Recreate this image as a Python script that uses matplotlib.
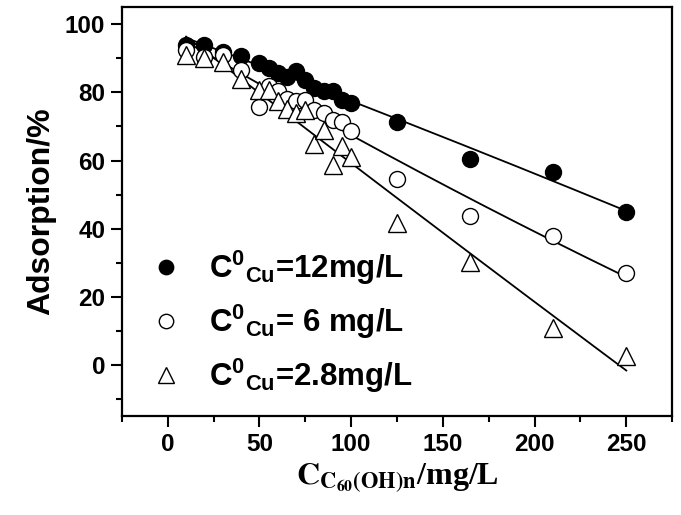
import matplotlib.pyplot as plt
import numpy as np
from matplotlib.ticker import MultipleLocator

plt.rcParams['mathtext.fontset'] = 'custom'
plt.rcParams['mathtext.rm'] = 'Liberation Sans:bold'
plt.rcParams['mathtext.bf'] = 'Liberation Sans:bold'
plt.rcParams['mathtext.it'] = 'Liberation Sans:bold'

# C60(OH)n concentration, mg/L
conc = np.array([10, 20, 30, 40, 50, 55, 60, 65, 70, 75, 80, 85, 90, 95, 100, 125, 165, 210, 250])

# adsorption %, one series per initial Cu concentration
ads_12 = np.array([94.0, 94.0, 92.0, 90.6, 88.5, 87.2, 85.6, 84.5, 86.3, 83.5, 81.3, 80.5, 80.5, 77.8, 76.8,
                   71.3, 60.6, 56.6, 44.8])
ads_6 = np.array([92.5, 90.5, 91.0, 86.5, 75.8, 82.0, 80.5, 78.2, 77.5, 77.7, 74.8, 73.9, 71.8, 71.2, 68.8,
                  54.6, 43.6, 38.0, 27.0])
ads_28 = np.array([91.0, 90.0, 89.0, 84.0, 80.6, 80.8, 77.6, 75.0, 73.9, 74.8, 65.0, 69.0, 58.6, 64.2, 61.0,
                   41.6, 30.2, 11.0, 2.5])

labels = [r'$\mathbf{C}^{\mathbf{0}}{}_{\mathbf{Cu}}$=12mg/L',
          r'$\mathbf{C}^{\mathbf{0}}{}_{\mathbf{Cu}}$= 6 mg/L',
          r'$\mathbf{C}^{\mathbf{0}}{}_{\mathbf{Cu}}$=2.8mg/L']

fig = plt.figure(figsize=(6.81, 5.15), dpi=100)
ax = fig.add_axes([0.179, 0.192, 0.808, 0.794])

xfit = np.linspace(10, 250, 200)
handles = []
for y, mk, fc in [(ads_12, 'o', 'black'), (ads_6, 'o', 'white'), (ads_28, '^', 'white')]:
    coef = np.polyfit(conc, y, 2)
    ax.plot(xfit, np.polyval(coef, xfit), color='black', lw=1.3, zorder=2)
    ms = 11.5 if mk == 'o' else 13
    h, = ax.plot(conc, y, ls='none', marker=mk, ms=ms, mfc=fc, mec='black', mew=1.0, zorder=3)
    handles.append(h)

leg = ax.legend(handles, labels, loc='center left', bbox_to_anchor=(0.0, 0.23),
                frameon=False, markerscale=0.9, handlelength=1.0, handletextpad=0.9,
                labelspacing=0.5,
                prop=dict(family='Liberation Sans', weight='bold', size=22.5))

ax.set_xlim(-25, 275)
ax.set_ylim(-15, 105)
ax.xaxis.set_major_locator(MultipleLocator(50))
ax.xaxis.set_minor_locator(MultipleLocator(25))
ax.yaxis.set_major_locator(MultipleLocator(20))
ax.yaxis.set_minor_locator(MultipleLocator(10))
ax.set_xticks([0, 50, 100, 150, 200, 250])

ax.tick_params(which='major', direction='out', length=8, width=1.5, labelsize=17.5, pad=4)
ax.tick_params(which='minor', direction='out', length=4.5, width=1.5)
for lab in ax.get_xticklabels() + ax.get_yticklabels():
    lab.set_fontweight('bold')
    lab.set_family('Liberation Sans')
for sp in ax.spines.values():
    sp.set_linewidth(1.6)

ax.set_ylabel('Adsorption/%', fontsize=23, fontweight='bold', family='Liberation Sans', labelpad=6)
ax.set_xlabel(r'$\mathbf{C}_{\mathbf{C_{60}(OH)n}}$/mg/L', fontsize=23, fontweight='bold',
              family='Liberation Serif', math_fontfamily='stix', labelpad=4)

fig.savefig('out.png', dpi=100)
